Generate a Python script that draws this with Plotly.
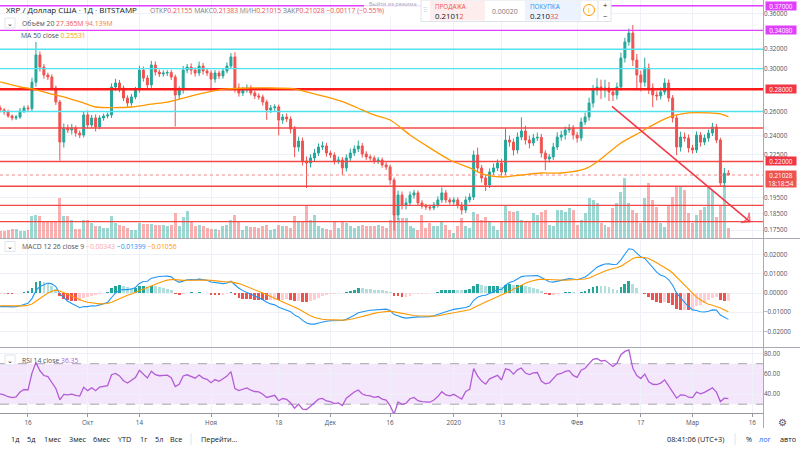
import math
import pandas as pd
import plotly.graph_objects as go

FONT = "Open Sans"
PLOT_W, PLOT_H = 763, 413  # plot area in pixels (right axis + bottom toolbar are margins)

TEAL = "#26a69a"
RED = "#ef5350"

# ---------------- data ----------------
dates = pd.date_range("2019-09-09", periods=184, freq="D")

first_open = 0.2631
close = [
    0.2613, 0.2595, 0.2561, 0.2544, 0.2552, 0.2604, 0.2631, 0.2625, 0.2867, 0.3140,
    0.3016, 0.2936, 0.2917, 0.2812, 0.2683, 0.2347, 0.2460, 0.2444, 0.2460, 0.2419,
    0.2403, 0.2570, 0.2485, 0.2544, 0.2469, 0.2544, 0.2561, 0.2570, 0.2821, 0.2859,
    0.2812, 0.2719, 0.2674, 0.2729, 0.2794, 0.2985, 0.2907, 0.2841, 0.3036, 0.2966,
    0.2946, 0.2956, 0.2960, 0.2917, 0.2747, 0.2794, 0.2985, 0.3016, 0.2985, 0.2956,
    0.3026, 0.2976, 0.2956, 0.2897, 0.2956, 0.2927, 0.2976, 0.3026, 0.3119, 0.2812,
    0.2765, 0.2794, 0.2812, 0.2765, 0.2738, 0.2729, 0.2683, 0.2613, 0.2631, 0.2640,
    0.2526, 0.2552, 0.2535, 0.2452, 0.2309, 0.2355, 0.2204, 0.2189, 0.2226, 0.2263,
    0.2309, 0.2317, 0.2263, 0.2248, 0.2204, 0.2211, 0.2153, 0.2226, 0.2263, 0.2294,
    0.2317, 0.2256, 0.2234, 0.2226, 0.2204, 0.2211, 0.2175, 0.2160, 0.2068, 0.1840,
    0.1967, 0.1903, 0.1916, 0.1967, 0.1981, 0.1916, 0.1896, 0.1890, 0.1884, 0.1903,
    0.1935, 0.1981, 0.1935, 0.1922, 0.1935, 0.1903, 0.1871, 0.1935, 0.1954, 0.2248,
    0.2153, 0.2082, 0.2034, 0.2124, 0.2153, 0.2189, 0.2124, 0.2363, 0.2347, 0.2286,
    0.2387, 0.2435, 0.2363, 0.2340, 0.2379, 0.2385, 0.2263, 0.2219, 0.2234, 0.2309,
    0.2387, 0.2403, 0.2444, 0.2460, 0.2403, 0.2379, 0.2510, 0.2552, 0.2674, 0.2794,
    0.2821, 0.2794, 0.2812, 0.2775, 0.2747, 0.2821, 0.3108, 0.3279, 0.3378, 0.3087,
    0.2936, 0.2867, 0.3006, 0.2812, 0.2747, 0.2738, 0.2775, 0.2859, 0.2719, 0.2544,
    0.2309, 0.2387, 0.2379, 0.2302, 0.2286, 0.2403, 0.2347, 0.2379, 0.2419, 0.2469,
    0.2363, 0.2048, 0.21155, 0.21028,
]

# wick lengths in % beyond the candle body
upper_wick_pct = [
    0.8, 0.6, 0.8, 0.5, 0.7, 1.0, 0.8, 0.9, 1.5, 4.4,
    1.2, 1.0, 0.8, 0.9, 0.8, 0.7, 1.5, 1.2, 1.4, 0.8,
    0.9, 1.0, 1.5, 1.0, 1.2, 0.9, 0.8, 0.8, 1.2, 1.4,
    1.0, 0.8, 0.9, 1.0, 1.0, 1.5, 1.2, 1.0, 1.4, 1.2,
    0.8, 0.9, 0.8, 0.9, 0.8, 1.2, 1.4, 1.0, 1.2, 0.9,
    1.5, 1.0, 0.8, 0.9, 1.0, 0.8, 1.0, 1.2, 1.3, 1.6,
    1.5, 1.0, 1.2, 0.9, 0.8, 0.9, 0.8, 0.8, 1.0, 0.9,
    0.8, 1.0, 1.2, 0.9, 1.0, 1.5, 1.2, 1.5, 1.2, 1.4,
    1.2, 1.5, 1.0, 0.8, 0.9, 1.2, 1.0, 1.2, 1.5, 1.2,
    1.8, 1.0, 0.9, 0.8, 0.8, 1.0, 0.8, 0.9, 0.8, 0.8,
    1.5, 1.2, 1.6, 1.2, 1.0, 0.8, 0.9, 0.8, 0.7, 1.0,
    1.2, 1.8, 1.0, 0.8, 0.9, 0.9, 1.0, 1.2, 1.2, 1.5,
    2.5, 1.0, 1.0, 1.2, 1.5, 1.2, 1.4, 4.0, 1.5, 1.2,
    1.5, 4.7, 1.8, 1.5, 1.4, 1.6, 1.2, 0.9, 1.0, 1.4,
    1.6, 1.5, 1.2, 1.3, 1.0, 1.0, 1.5, 1.5, 1.8, 1.6,
    3.0, 2.5, 2.8, 2.0, 1.0, 1.5, 1.8, 1.4, 1.5, 2.7,
    2.0, 1.5, 3.5, 1.5, 1.5, 1.2, 1.5, 1.6, 1.2, 1.0,
    1.0, 1.8, 1.5, 1.2, 1.0, 1.2, 1.0, 1.2, 1.2, 1.4,
    1.0, 0.8, 1.8, 1.08,
]
lower_wick_pct = [
    0.8, 0.9, 0.6, 0.8, 0.7, 0.6, 0.7, 0.8, 0.8, 1.5,
    1.5, 1.2, 1.0, 0.9, 1.0, 6.0, 1.8, 1.0, 1.5, 1.2,
    1.0, 0.8, 1.2, 1.0, 1.5, 0.8, 0.9, 0.8, 1.0, 1.2,
    1.4, 1.0, 1.2, 0.9, 0.8, 0.9, 1.2, 1.5, 1.0, 1.2,
    1.0, 0.9, 1.0, 1.0, 10.0, 1.5, 1.2, 1.0, 1.5, 1.2,
    1.0, 1.2, 1.0, 4.0, 1.2, 1.0, 0.9, 0.8, 0.9, 1.5,
    1.2, 1.0, 0.9, 0.8, 1.0, 0.9, 1.2, 3.3, 1.0, 1.0,
    5.0, 1.2, 1.0, 1.5, 3.3, 1.5, 1.5, 8.0, 1.5, 1.2,
    1.0, 1.0, 1.2, 1.0, 1.2, 1.0, 2.3, 1.2, 1.0, 1.0,
    1.0, 1.2, 1.0, 0.9, 1.0, 1.0, 0.9, 1.0, 1.5, 5.0,
    1.5, 1.5, 1.5, 1.0, 1.2, 1.0, 0.9, 1.0, 0.9, 0.8,
    0.9, 1.0, 1.0, 0.8, 1.0, 1.2, 1.5, 1.0, 0.9, 1.0,
    1.5, 1.5, 2.0, 1.0, 1.0, 1.0, 1.2, 1.0, 1.5, 1.8,
    1.2, 1.0, 1.5, 1.8, 1.0, 1.0, 1.5, 3.7, 1.2, 1.0,
    1.0, 1.2, 1.5, 1.0, 1.5, 1.5, 1.0, 1.0, 1.2, 1.5,
    1.8, 3.0, 2.5, 3.0, 2.0, 1.5, 1.2, 1.5, 1.2, 2.0,
    5.0, 3.0, 1.5, 2.0, 4.0, 1.5, 1.2, 1.0, 1.2, 1.5,
    2.7, 1.5, 1.2, 1.5, 1.2, 1.0, 1.5, 1.0, 1.2, 1.0,
    1.0, 1.3, 1.5, 0.06,
]

# volume, millions
volume_m = [
    19, 19, 22, 25, 25, 19, 19, 22, 60, 63,
    60, 47, 47, 47, 47, 110, 60, 60, 49, 25,
    25, 49, 49, 41, 33, 33, 27, 27, 60, 41,
    36, 33, 27, 22, 22, 41, 38, 38, 38, 36,
    36, 36, 33, 36, 69, 33, 58, 74, 47, 33,
    36, 33, 27, 25, 25, 22, 33, 36, 49, 63,
    47, 22, 33, 30, 30, 27, 33, 36, 22, 25,
    36, 33, 33, 27, 60, 47, 47, 90, 49, 63,
    33, 27, 25, 22, 47, 27, 44, 41, 33, 27,
    33, 36, 33, 33, 33, 36, 33, 27, 49, 63,
    55, 55, 55, 33, 27, 22, 63, 27, 41, 33,
    33, 47, 36, 22, 14, 33, 55, 33, 27, 71,
    66, 49, 58, 47, 33, 22, 47, 88, 74, 71,
    74, 49, 47, 44, 69, 63, 71, 77, 36, 33,
    77, 77, 71, 82, 77, 36, 49, 69, 110, 104,
    96, 41, 36, 30, 82, 96, 126, 164, 96, 77,
    69, 41, 110, 151, 104, 85, 41, 30, 90, 112,
    140, 140, 132, 69, 41, 63, 77, 85, 140, 132,
    58, 88, 145, 27.365,
]

# MA 50 close
ma_dates = [
    "2019-09-09", "2019-09-14", "2019-09-17", "2019-09-21", "2019-09-26", "2019-09-30",
    "2019-10-03", "2019-10-12", "2019-10-17", "2019-10-21", "2019-10-25", "2019-10-30",
    "2019-11-05", "2019-11-11", "2019-11-15", "2019-11-22", "2019-11-25", "2019-11-30",
    "2019-12-05", "2019-12-09", "2019-12-12", "2019-12-16", "2019-12-21", "2019-12-26",
    "2019-12-31", "2020-01-05", "2020-01-09", "2020-01-13", "2020-01-18", "2020-01-23",
    "2020-01-28", "2020-02-03", "2020-02-06", "2020-02-12", "2020-02-17", "2020-02-21",
    "2020-02-25", "2020-02-29", "2020-03-05", "2020-03-08", "2020-03-10",
]
ma_values = [
    0.2869, 0.2821, 0.2803, 0.2765, 0.2719, 0.2674,
    0.2639, 0.2639, 0.2665, 0.2683, 0.2719, 0.2765,
    0.2803, 0.2812, 0.2812, 0.2803, 0.2775, 0.2729,
    0.2674, 0.2613, 0.2570, 0.2527, 0.2404, 0.2302,
    0.2211, 0.2153, 0.2103, 0.2089, 0.2103, 0.2117,
    0.2117, 0.2146, 0.2196, 0.2340, 0.2428, 0.2502,
    0.2561, 0.2587, 0.2587, 0.2578, 0.2553,
]

# drawn horizontal levels
level_prices = [0.3700, 0.3408, 0.3200, 0.3000, 0.2800, 0.2600, 0.2460, 0.2200, 0.2025, 0.1900, 0.1800]
level_kinds = ["magenta", "magenta", "cyan", "cyan", "red_bold", "cyan", "red", "red", "red", "red", "red"]
boxed_levels = [0.3700, 0.3408, 0.2800, 0.2200]

# drawn trend arrow
trend_dates = ["2020-02-09 18:00", "2020-03-15 10:00"]
trend_prices = [0.2645, 0.1800]

last_price = 0.21028

x_tick_dates = ["2019-09-16", "2019-10-01", "2019-10-14", "2019-11-01", "2019-11-18", "2019-12-01",
                "2019-12-16", "2020-01-01", "2020-01-13", "2020-02-01", "2020-02-17", "2020-03-01",
                "2020-03-16"]
x_tick_labels = ["16", "Окт", "14", "Ноя", "18", "Дек", "16", "2020", "13", "Фев", "17", "Мар", "16"]

price_ticks = [0.36, 0.32, 0.30, 0.26, 0.24, 0.225, 0.195, 0.185, 0.175]
macd_ticks = [0.02, 0.01, 0.0, -0.01, -0.02]
rsi_ticks = [80, 60, 40]
rsi_bands = [70, 30]

# ---------------- derived series ----------------
opens = [first_open] + close[:-1]
highs = [max(o, c) * (1 + u / 100) for o, c, u in zip(opens, close, upper_wick_pct)]
lows = [min(o, c) * (1 - l / 100) for o, c, l in zip(opens, close, lower_wick_pct)]
vol_colors = ["rgba(38,166,154,0.45)" if c >= o else "rgba(239,83,80,0.45)" for o, c in zip(opens, close)]


def ema(values, span, seed):
    k = 2 / (span + 1)
    out, prev = [], seed
    for v in values:
        prev += k * (v - prev)
        out.append(prev)
    return out


# EMA seeds carry the history that lies left of the visible window
ema12 = ema(close, 12, 0.2652)
ema26 = ema(close, 26, 0.2725)
macd = [a - b for a, b in zip(ema12, ema26)]
signal = ema(macd, 9, -0.0065)
hist = [m - s for m, s in zip(macd, signal)]
hist_colors = []
for i, h in enumerate(hist):
    prev = hist[i - 1] if i else h
    if h >= 0:
        hist_colors.append("#26a69a" if h >= prev else "#b2dfdb")
    else:
        hist_colors.append("#ffcdd2" if h >= prev else "#ef5350")

avg_gain, avg_loss = 0.0025, 0.0036
rsi, prev_c = [], first_open
for c in close:
    ch = c - prev_c
    prev_c = c
    avg_gain = (avg_gain * 13 + max(ch, 0)) / 14
    avg_loss = (avg_loss * 13 + max(-ch, 0)) / 14
    rsi.append(100 - 100 / (1 + avg_gain / avg_loss))

x_range = [pd.Timestamp("2019-09-08 23:10"), pd.Timestamp("2020-03-18 17:00")]
DAY_MS = 86400000

# ---------------- figure ----------------
fig = go.Figure()

fig.add_trace(go.Bar(x=dates, y=volume_m, marker_color=vol_colors, marker_line_width=0,
                     width=0.75 * DAY_MS, yaxis="y", hoverinfo="skip"))

level_style = {
    "magenta": dict(color="#e040fb", width=1.4),
    "cyan": dict(color="#50e3ee", width=1.4),
    "red_bold": dict(color="#ff1a1a", width=2.4),
    "red": dict(color="#f44848", width=1.4),
}
for price, kind in zip(level_prices, level_kinds):
    fig.add_trace(go.Scatter(x=x_range, y=[price, price], mode="lines", line=level_style[kind],
                             yaxis="y4", hoverinfo="skip"))

fig.add_trace(go.Scatter(x=x_range, y=[last_price, last_price], mode="lines",
                         line=dict(color="#f08a88", width=1, dash="dot"), yaxis="y4", hoverinfo="skip"))

fig.add_trace(go.Scatter(x=pd.to_datetime(ma_dates), y=ma_values, mode="lines",
                         line=dict(color="#ff9800", width=1.3, shape="spline", smoothing=0.8),
                         yaxis="y4", hoverinfo="skip"))

fig.add_trace(go.Candlestick(
    x=dates, open=opens, high=highs, low=lows, close=close, yaxis="y4",
    increasing=dict(line=dict(color=TEAL, width=1), fillcolor=TEAL),
    decreasing=dict(line=dict(color=RED, width=1), fillcolor=RED),
    whiskerwidth=0, hoverinfo="skip",
))

fig.add_trace(go.Scatter(
    x=pd.to_datetime(trend_dates), y=trend_prices, mode="lines+markers", yaxis="y4",
    line=dict(color="#f23645", width=1.5),
    marker=dict(symbol="arrow-wide-open", size=[0, 9], color="#f23645", angleref="previous",
                line=dict(color="#f23645", width=1.5)),
    hoverinfo="skip",
))

# MACD pane
fig.add_trace(go.Bar(x=dates, y=hist, marker_color=hist_colors, marker_line_width=0,
                     width=0.7 * DAY_MS, yaxis="y2", hoverinfo="skip"))
fig.add_trace(go.Scatter(x=dates, y=macd, mode="lines", line=dict(color="#2196f3", width=1.1),
                         yaxis="y2", hoverinfo="skip"))
fig.add_trace(go.Scatter(x=dates, y=signal, mode="lines", line=dict(color="#ff9800", width=1.1),
                         yaxis="y2", hoverinfo="skip"))

# RSI pane
for b in rsi_bands:
    fig.add_trace(go.Scatter(x=x_range, y=[b, b], mode="lines",
                             line=dict(color="#a3a6af", width=1, dash="dash"), yaxis="y3", hoverinfo="skip"))
fig.add_trace(go.Scatter(x=dates, y=rsi, mode="lines", line=dict(color="#b45cd6", width=1.3),
                         yaxis="y3", hoverinfo="skip"))


def px(x):
    return x / PLOT_W


def py(y):
    return 1 - y / PLOT_H


GRID = "#eef1f8"
AXIS_FONT = dict(family=FONT, size=6.3, color="#4c525e")

price_top, price_bot = 0.3772, 0.1704

fig.update_layout(
    width=800, height=450,
    margin=dict(l=0, r=37, t=0, b=37),
    paper_bgcolor="white", plot_bgcolor="white",
    showlegend=False, bargap=0, boxgap=0.3,
    font=dict(family=FONT),
    xaxis=dict(
        type="date", range=x_range, anchor="y3",
        tickvals=pd.to_datetime(x_tick_dates), ticktext=x_tick_labels,
        showgrid=True, gridcolor=GRID, gridwidth=1,
        showline=True, linecolor="#9598a1", linewidth=1,
        ticks="outside", ticklen=3, tickcolor="#9598a1",
        tickfont=AXIS_FONT, rangeslider=dict(visible=False), fixedrange=True,
    ),
    yaxis=dict(domain=[py(238), 1], range=[0, 650], visible=False, fixedrange=True),
    yaxis4=dict(
        overlaying="y", type="log", side="right", anchor="x",
        range=[math.log10(price_bot), math.log10(price_top)],
        tickvals=price_ticks, ticktext=[f"{v:.5f}" for v in price_ticks],
        showgrid=True, gridcolor=GRID, tickfont=AXIS_FONT, zeroline=False, fixedrange=True,
    ),
    yaxis2=dict(
        domain=[py(347.5), py(239.5)], range=[-0.0283, 0.0278], side="right", anchor="x",
        tickvals=macd_ticks,
        ticktext=[f"{v:.5f}".replace("-", "−") for v in macd_ticks],
        showgrid=True, gridcolor=GRID, zeroline=False, tickfont=AXIS_FONT, fixedrange=True,
    ),
    yaxis3=dict(
        domain=[0, py(348.5)], range=[21.3, 85], side="right", anchor="x",
        tickvals=rsi_ticks, ticktext=[f"{v:.2f}" for v in rsi_ticks],
        showgrid=True, gridcolor=GRID, zeroline=False, tickfont=AXIS_FONT, fixedrange=True,
    ),
)

shapes = []
# RSI background band
shapes.append(dict(type="rect", xref="paper", x0=0, x1=1, yref="y3", y0=rsi_bands[1], y1=rsi_bands[0],
                   fillcolor="#f4e7fc", line_width=0, layer="below"))
# pane separators and axis border
for yy in (238.5, 347.5):
    shapes.append(dict(type="line", xref="paper", yref="paper", x0=0, x1=px(800), y0=py(yy), y1=py(yy),
                       line=dict(color="#a8abb4", width=1)))
shapes.append(dict(type="line", xref="paper", yref="paper", x0=px(763.5), x1=px(763.5), y0=py(0), y1=py(428),
                   line=dict(color="#a8abb4", width=1)))

annotations = []


def text(x, y, s, color="#4c525e", size=7, anchor="left", **kw):
    annotations.append(dict(x=px(x), y=py(y), xref="paper", yref="paper", text=s, showarrow=False,
                            font=dict(family=FONT, size=size, color=color), xanchor=anchor,
                            yanchor="middle", **kw))


def collapse_button(x, y):
    shapes.append(dict(type="rect", xref="paper", yref="paper", x0=px(x), x1=px(x + 10),
                       y0=py(y - 5), y1=py(y + 5), line=dict(color="#e0e3eb", width=1), fillcolor="white"))
    text(x + 5, y, "⌄", color="#131722", size=7, anchor="center")


# right axis value boxes for drawn levels
box_color = {"magenta": "#e040fb", "red_bold": "#f23645", "red": "#f23645"}
for price, kind in zip(level_prices, level_kinds):
    if price in boxed_levels:
        annotations.append(dict(
            x=px(765), y=math.log10(price), xref="paper", yref="y4", text=f"{price:.5f}",
            showarrow=False, xanchor="left", yanchor="middle", bgcolor=box_color[kind],
            font=dict(family=FONT, size=6.3, color="white"), borderpad=0.5, width=29, height=7,
        ))
annotations.append(dict(
    x=px(765), y=math.log10(last_price), xref="paper", yref="y4", text=f"{last_price:.5f}",
    showarrow=False, xanchor="left", yanchor="middle", bgcolor=RED,
    font=dict(family=FONT, size=6.3, color="white"), borderpad=0.5, width=29, height=7,
))
text(765, 183, "18:18:54", color="white", size=6.3, bgcolor=RED, borderpad=0.5, width=29, height=7)

# header of the price pane
text(4, 9, "XRP / Доллар США · 1Д · BITSTAMP", color="#131722", size=8)
r = "#ef5350"
text(148, 10, f"ОТКР<span style='color:{r}'>0.21155</span> МАКС<span style='color:{r}'>0.21383</span> "
              f"МИН<span style='color:{r}'>0.21015</span> ЗАКР<span style='color:{r}'>0.21028</span> "
              f"<span style='color:{r}'>−0.00117 (−0.55%)</span>", color="#787b86", size=6.8)
collapse_button(5, 23)
text(20, 23, "Объём 20 <span style='color:#ef5350'>27.365M</span> <span style='color:#f5793b'>94.139M</span>",
     color="#4c525e", size=6.8)
text(19, 35, "MA 50 close <span style='color:#ff9800'>0.25531</span>", color="#4c525e", size=6.8)

# tooltip fragment and buy/sell widget
shapes.append(dict(type="rect", xref="paper", yref="paper", x0=px(364), x1=px(424), y0=py(0), y1=py(16),
                   fillcolor="rgba(255,255,255,0.85)", line_width=0))
text(367, 4, "Выйти из режима", color="#a3a6af", size=5.5)
shapes.append(dict(type="rect", xref="paper", yref="paper", x0=px(421), x1=px(611), y0=py(0), y1=py(21.5),
                   fillcolor="white", line=dict(color="#dfe2ea", width=1)))
shapes.append(dict(type="rect", xref="paper", yref="paper", x0=px(430), x1=px(485), y0=py(1), y1=py(20.5),
                   fillcolor="#fdeded", line_width=0))
shapes.append(dict(type="rect", xref="paper", yref="paper", x0=px(525), x1=px(581), y0=py(1), y1=py(20.5),
                   fillcolor="#ecf3fe", line_width=0))
text(425, 10, "⠿", color="#c1c4cc", size=6, anchor="center")
text(433, 6, "ПРОДАЖА", color="#ef5350", size=6.3)
text(433, 15.5, "0.2101<span style='color:#ef5350'>2</span>", color="#131722", size=7.8)
text(505, 11, "0.00020", color="#787b86", size=7, anchor="center")
text(528, 6, "ПОКУПКА", color="#2196f3", size=6.3)
text(528, 15.5, "0.210<span style='color:#ef5350'>32</span>", color="#131722", size=7.8)
shapes.append(dict(type="circle", xref="paper", yref="paper", x0=px(583.5), x1=px(594.5), y0=py(4.5), y1=py(15.5),
                   line=dict(color="#ff9800", width=1)))
text(589, 10, "i", color="#ff9800", size=7, anchor="center")
shapes.append(dict(type="line", xref="paper", yref="paper", x0=px(598), x1=px(598), y0=py(1), y1=py(20.5),
                   line=dict(color="#e0e3eb", width=1)))
text(605, 5, "+", color="#131722", size=7.5, anchor="center")
text(605, 15.5, "−", color="#131722", size=7.5, anchor="center")

# MACD / RSI headers
collapse_button(5, 246.5)
text(20, 246.5, "MACD 12 26 close 9 <span style='color:#f8a7a7'>−0.00343</span> "
                "<span style='color:#2196f3'>−0.01399</span> <span style='color:#ff9800'>−0.01056</span>",
     color="#4c525e", size=6.8)
collapse_button(5, 360)
text(20, 360, "RSI 14 close <span style='color:#b45cd6'>36.35</span>", color="#4c525e", size=6.8)

# bottom toolbar
for x, s in zip([9, 25, 42, 67, 91, 116, 138, 153, 168],
                ["1д", "5д", "1мес", "3мес", "6мес", "YTD", "1г", "5л", "Все"]):
    text(x, 439, s, color="#131722", size=7.3)
shapes.append(dict(type="line", xref="paper", yref="paper", x0=px(191), x1=px(191), y0=py(433), y1=py(445),
                   line=dict(color="#e0e3eb", width=1)))
text(199, 439, "Перейти...", color="#131722", size=7.3)
text(665, 439, "08:41:06 (UTC+3)", color="#131722", size=7.3)
shapes.append(dict(type="line", xref="paper", yref="paper", x0=px(735), x1=px(735), y0=py(433), y1=py(445),
                   line=dict(color="#e0e3eb", width=1)))
text(744, 439, "%", color="#131722", size=7.3)
text(757, 439, "лог", color="#2962ff", size=7.3)
text(778, 439, "авто", color="#131722", size=7.3)
text(782, 422, "⚙", color="#50535e", size=10, anchor="center")

fig.update_layout(shapes=shapes, annotations=annotations)

fig.write_html("out.html", config={"displayModeBar": False, "staticPlot": True},
               post_script="document.body.style.margin='0';document.body.style.overflow='hidden';")
